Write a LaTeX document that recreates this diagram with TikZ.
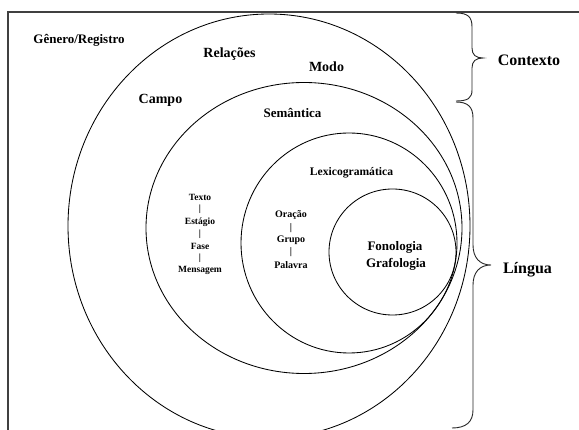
\documentclass[tikz,border=0pt]{standalone}
\usepackage{fontspec}
\setmainfont{Liberation Serif}
\begin{document}
\begin{tikzpicture}[x=1pt,y=-1pt,
  ring/.style={draw=black,line width=0.85pt},
  frame/.style={draw=black!75,line width=1.1pt},
  bracepath/.style={draw=black!85,line width=0.9pt},
  lbl/.style={font=\bfseries\fontsize{#1}{#1}\selectfont,inner sep=0pt},
]
\useasboundingbox (0,0) rectangle (579,430);
% frame
\draw[frame] (8,431) -- (8,12) -- (580,12);
% rings
\draw[ring] (269,226) ellipse [x radius=201, y radius=212];
\draw[ring] (304,228) ellipse [x radius=158, y radius=145.5];
\draw[ring] (349,243) ellipse [x radius=108, y radius=110];
\draw[ring] (392.5,252) ellipse [x radius=63.5, y radius=63];
% braces
\coordinate (c1) at (456,13);
\coordinate (c2) at (456,101);
\coordinate (ct) at (483,58);
\draw[bracepath] (c1) .. controls (468,13) and (472,17) .. (472,27) -- (472,48)
  .. controls (472,55) and (476,58) .. (ct)
  .. controls (476,58) and (472,61) .. (472,68) -- (472,90)
  .. controls (472,98) and (468,101) .. (c2);
\coordinate (l1) at (456,102);
\coordinate (l2) at (452,428);
\coordinate (lt) at (491,265);
\draw[bracepath] (l1) .. controls (468,102) and (473,107) .. (473,118) -- (473,245)
  .. controls (473,258) and (480,265) .. (lt)
  .. controls (480,265) and (473,272) .. (473,285) -- (473,410)
  .. controls (473,422) and (466,428) .. (l2);
% labels
\node[lbl=13] (gen) at (79,40) {Gênero/Registro};
\node[lbl=14] (rel) at (229.5,54) {Relações};
\node[lbl=14] (campo) at (160.5,100) {Campo};
\node[lbl=14] (modo) at (326.5,67) {Modo};
\node[lbl=13] (sem) at (292.5,113) {Semântica};
\node[lbl=11.6] (lex) at (351.5,173) {Lexicogramática};
\node[lbl=16] (ctx) at (529,60) {Contexto};
\node[lbl=16] (lin) at (527.5,270) {Língua};
\node[lbl=13] (fon) at (395,247) {Fonologia};
\node[lbl=13] (gra) at (396,264) {Grafologia};
% left column
\node[lbl=9.5] (t1) at (200,197) {Texto};
\node[lbl=9.5] (b1) at (200,209.5) {|};
\node[lbl=9.5] (t2) at (200,222) {Estágio};
\node[lbl=9.5] (b2) at (200,234) {|};
\node[lbl=9.5] (t3) at (200,246) {Fase};
\node[lbl=9.5] (b3) at (200,258) {|};
\node[lbl=9.5] (t4) at (200,270.5) {Mensagem};
% middle column
\node[lbl=10] (o1) at (291,215.5) {Oração};
\node[lbl=10] (ob1) at (291,228) {|};
\node[lbl=10] (o2) at (291,240.5) {Grupo};
\node[lbl=10] (ob2) at (291,252.5) {|};
\node[lbl=10] (o3) at (291,265) {Palavra};
\end{tikzpicture}
\end{document}
